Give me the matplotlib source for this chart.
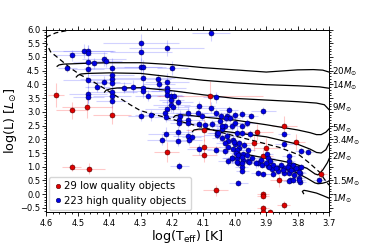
import numpy as np
import matplotlib
matplotlib.use("Agg")
import matplotlib.pyplot as plt
from matplotlib.lines import Line2D
from matplotlib.ticker import MultipleLocator
import matplotlib.transforms as mtransforms

# --- data: log Teff, log L and their errors ---
red_logt = [4.569, 4.519, 4.472, 4.391, 4.519, 4.465, 4.079, 4.097, 4.097, 4.097, 4.217, 4.061, 3.928,
            3.843, 3.940, 3.900, 3.805, 3.910, 3.727, 3.859, 3.911, 3.911, 3.845, 3.911, 3.911, 3.889]
red_logl = [3.61, 3.05, 3.16, 2.90, 1.00, 0.93, 3.59, 2.33, 1.71, 1.41, 1.54, 0.14, 2.27,
            2.49, 1.87, 1.68, 1.90, 1.38, 0.74, 0.50, 0.01, -0.05, -0.40, -0.50, -0.64, -0.66]
red_terr = [0.025, 0.05, 0.08, 0.06, 0.03, 0.05, 0.17, 0.06, 0.05, 0.04, 0.04, 0.04, 0.05,
            0.04, 0.04, 0.04, 0.03, 0.03, 0.02, 0.03, 0.02, 0.02, 0.02, 0.02, 0.02, 0.02]
red_lerr = [0.45, 0.30, 0.40, 0.35, 0.15, 0.20, 0.55, 0.40, 0.30, 0.25, 0.35, 0.20, 0.30,
            0.35, 0.30, 0.35, 0.30, 0.25, 0.20, 0.25, 0.10, 0.10, 0.15, 0.10, 0.10, 0.10]

blue_logt = [4.519, 4.481, 4.467, 4.467, 4.467, 4.467, 4.449, 4.417, 4.409, 4.534, 4.467, 4.467, 4.467,
             4.392, 4.392, 4.392, 4.392, 4.392, 4.392, 4.392, 4.417, 4.438, 4.353, 4.323,
             4.076, 4.299, 4.299, 4.217, 4.299, 4.292, 4.199, 4.292, 4.244, 4.242, 4.217, 4.217, 4.217,
             4.292, 4.292, 4.278, 4.217, 4.202, 4.194, 4.061, 4.182, 4.202, 4.202, 4.196, 4.217, 4.113,
             4.148, 4.116, 4.076, 4.061, 4.020, 4.026, 4.223, 4.268, 4.299, 4.175, 4.106, 4.219,
             4.000, 3.976, 3.947, 3.910,
             4.177, 4.177, 4.148, 4.148, 4.114, 4.095, 4.182, 4.218, 4.231, 4.180, 4.148, 4.146, 4.138,
             4.114, 4.177, 4.058, 4.058, 4.074, 4.042, 4.029, 4.060,
             4.015, 4.044, 4.031, 4.010, 3.994, 3.976, 3.951, 3.843, 3.843, 3.789, 3.768, 4.026, 4.021,
             4.005, 4.031, 3.999, 4.021, 4.005, 3.987, 4.031, 3.989, 3.973, 4.010, 3.994, 4.023, 3.991,
             3.973, 3.957, 3.978, 3.925, 3.898, 3.893, 3.888, 3.914, 3.893, 3.882, 3.866, 3.861, 3.845,
             3.829, 3.829, 3.829, 3.827, 3.813, 3.797, 3.792, 3.797, 3.824, 3.827, 3.845, 3.880, 3.909,
             3.927, 3.976, 3.989, 4.047, 4.042, 4.053, 4.042, 3.731, 3.828, 3.793, 3.999, 3.976, 3.960,
             4.003, 3.987, 3.971, 3.957, 3.992, 3.997, 3.989, 3.976, 3.960, 3.944, 4.008, 3.992, 3.976,
             3.955, 3.933, 3.917, 3.902, 3.891, 3.880, 3.870, 3.854, 3.848, 3.832, 3.822, 3.816, 3.806,
             3.795, 3.790, 3.811, 3.816, 3.795]
blue_logl = [5.06, 5.23, 5.23, 5.13, 4.80, 4.57, 4.77, 4.93, 4.84, 4.59, 4.16, 3.64, 3.53,
             4.61, 4.34, 4.18, 4.06, 3.71, 3.58, 3.40, 4.10, 3.92, 3.88, 3.92,
             5.89, 5.52, 5.19, 5.32, 4.65, 4.65, 4.60, 4.22, 4.18, 4.01, 4.10, 3.86, 3.76,
             3.86, 3.76, 3.58, 3.61, 3.59, 3.59, 3.54, 3.37, 3.43, 3.25, 3.16, 3.09, 3.21,
             2.97, 2.97, 3.15, 2.97, 3.07, 2.85, 2.97, 2.88, 2.85, 2.85, 2.85, 2.83,
             2.87, 2.92, 2.86, 3.04,
             2.70, 2.58, 2.72, 2.60, 2.55, 2.52, 2.27, 2.21, 1.99, 1.94, 2.12, 1.99, 2.07,
             1.63, 1.02, 2.24, 2.15, 2.55, 2.39, 2.76, 1.60,
             2.78, 2.85, 2.48, 2.48, 2.24, 2.24, 2.20, 2.20, 1.84, 1.57, 1.54, 2.12, 1.93,
             1.99, 1.87, 1.84, 1.71, 1.63, 1.67, 1.57, 1.45, 1.45, 1.33, 1.33, 1.20, 1.14,
             1.23, 1.20, 0.98, 1.14, 1.45, 1.33, 1.20, 1.08, 1.02, 0.90, 0.96, 0.86, 0.96,
             1.39, 1.20, 1.08, 0.90, 0.92, 0.96, 0.78, 0.60, 0.53, 0.78, 0.78, 0.72, 0.72,
             0.78, 0.84, 0.42, 2.66, 2.48, 2.24, 2.06, 0.51, 0.49, 0.46, 2.60, 2.48, 2.60,
             1.91, 1.85, 1.79, 1.60, 1.60, 1.51, 1.42, 1.36, 1.42, 1.30, 1.30, 1.18, 1.12,
             1.18, 1.12, 1.24, 1.12, 0.99, 1.06, 0.94, 1.06, 0.87, 0.99, 0.87, 1.06, 0.94,
             0.81, 0.99, 0.69, 0.51, 0.51]
blue_terr = [0.06, 0.10, 0.08, 0.06, 0.05, 0.05, 0.04, 0.07, 0.05, 0.03, 0.08, 0.06, 0.05,
             0.09, 0.07, 0.10, 0.06, 0.08, 0.06, 0.05, 0.05, 0.04, 0.06, 0.05,
             0.06, 0.12, 0.10, 0.12, 0.08, 0.06, 0.05, 0.10, 0.04, 0.05, 0.07, 0.06, 0.05,
             0.08, 0.06, 0.04, 0.05, 0.04, 0.03, 0.04, 0.05, 0.04, 0.06, 0.05, 0.07, 0.05,
             0.04, 0.03, 0.05, 0.04, 0.03, 0.03, 0.06, 0.05, 0.04, 0.04, 0.05, 0.04,
             0.03, 0.03, 0.02, 0.04,
             0.04, 0.03, 0.05, 0.04, 0.03, 0.04, 0.05, 0.06, 0.05, 0.04, 0.05, 0.04, 0.03,
             0.04, 0.03, 0.03, 0.04, 0.03, 0.04, 0.03, 0.03,
             0.03, 0.04, 0.03, 0.02, 0.03, 0.02, 0.03, 0.02, 0.03, 0.02, 0.02, 0.03, 0.03,
             0.02, 0.03, 0.02, 0.03, 0.02, 0.03, 0.03, 0.02, 0.02, 0.03, 0.02, 0.03, 0.02,
             0.02, 0.02, 0.02, 0.02, 0.02, 0.02, 0.02, 0.02, 0.02, 0.02, 0.02, 0.02, 0.02,
             0.02, 0.02, 0.02, 0.02, 0.02, 0.02, 0.02, 0.02, 0.02, 0.02, 0.02, 0.02, 0.02,
             0.02, 0.02, 0.03, 0.03, 0.03, 0.03, 0.03, 0.02, 0.02, 0.02, 0.02, 0.02, 0.03,
             0.02, 0.02, 0.02, 0.02, 0.02, 0.02, 0.02, 0.02, 0.02, 0.02, 0.03, 0.02, 0.02,
             0.02, 0.02, 0.02, 0.02, 0.02, 0.02, 0.02, 0.02, 0.02, 0.02, 0.02, 0.02, 0.02,
             0.02, 0.02, 0.02, 0.02, 0.02]
blue_lerr = [0.20, 0.25, 0.20, 0.30, 0.20, 0.25, 0.20, 0.25, 0.20, 0.15, 0.30, 0.30, 0.25,
             0.35, 0.30, 0.25, 0.30, 0.35, 0.30, 0.25, 0.20, 0.20, 0.20, 0.25,
             0.30, 0.30, 0.35, 0.30, 0.30, 0.25, 0.25, 0.30, 0.20, 0.25, 0.30, 0.25, 0.20,
             0.25, 0.25, 0.20, 0.30, 0.20, 0.20, 0.20, 0.25, 0.20, 0.25, 0.20, 0.30, 0.20,
             0.20, 0.15, 0.20, 0.15, 0.15, 0.20, 0.25, 0.20, 0.20, 0.20, 0.15, 0.20,
             0.15, 0.15, 0.10, 0.15,
             0.20, 0.15, 0.20, 0.15, 0.15, 0.15, 0.20, 0.25, 0.20, 0.20, 0.25, 0.20, 0.15,
             0.20, 0.15, 0.20, 0.15, 0.15, 0.20, 0.15, 0.15,
             0.15, 0.15, 0.15, 0.15, 0.20, 0.15, 0.15, 0.10, 0.15, 0.10, 0.10, 0.15, 0.20,
             0.15, 0.15, 0.15, 0.20, 0.15, 0.15, 0.15, 0.15, 0.10, 0.15, 0.15, 0.15, 0.10,
             0.15, 0.10, 0.10, 0.15, 0.15, 0.10, 0.15, 0.10, 0.10, 0.10, 0.15, 0.10, 0.10,
             0.15, 0.10, 0.10, 0.10, 0.10, 0.15, 0.10, 0.10, 0.10, 0.10, 0.10, 0.10, 0.10,
             0.10, 0.10, 0.10, 0.15, 0.15, 0.20, 0.15, 0.10, 0.10, 0.10, 0.15, 0.10, 0.15,
             0.15, 0.10, 0.15, 0.10, 0.15, 0.10, 0.15, 0.10, 0.10, 0.15, 0.15, 0.10, 0.10,
             0.10, 0.15, 0.10, 0.10, 0.10, 0.10, 0.10, 0.15, 0.10, 0.10, 0.10, 0.10, 0.10,
             0.10, 0.10, 0.10, 0.10, 0.10]

# evolutionary tracks (log Teff, log L) and the dashed birthline
track_masses = ["20", "14", "9", "5", "3.4", "2", "1.5", "1"]
track_label_logl = [4.47, 3.95, 3.15, 2.40, 1.93, 1.36, 0.47, -0.16]
track_20_t = [4.566, 4.56, 4.545, 4.52, 4.45, 4.40, 4.30, 4.20, 4.10, 4.00, 3.90, 3.85, 3.80, 3.75, 3.72, 3.70]
track_20_l = [4.66, 4.71, 4.74, 4.75, 4.78, 4.79, 4.79, 4.72, 4.61, 4.53, 4.45, 4.49, 4.53, 4.54, 4.52, 4.45]
track_14_t = [4.505, 4.50, 4.49, 4.47, 4.40, 4.30, 4.20, 4.10, 4.00, 3.90, 3.80, 3.73, 3.70]
track_14_l = [4.27, 4.33, 4.38, 4.40, 4.42, 4.40, 4.27, 4.15, 4.06, 3.99, 3.95, 3.91, 3.86]
track_9_t = [4.415, 4.41, 4.395, 4.375, 4.30, 4.20, 4.10, 4.00, 3.90, 3.80, 3.74, 3.715, 3.70]
track_9_l = [3.72, 3.79, 3.84, 3.87, 3.88, 3.77, 3.62, 3.49, 3.43, 3.37, 3.32, 3.26, 3.08]
track_5_t = [4.195, 4.19, 4.175, 4.15, 4.10, 4.00, 3.90, 3.80, 3.76, 3.74, 3.725, 3.71, 3.70]
track_5_l = [2.80, 2.86, 2.89, 2.88, 2.81, 2.70, 2.53, 2.34, 2.24, 2.17, 2.17, 2.26, 2.38]
track_34_t = [4.135, 4.13, 4.115, 4.09, 4.05, 4.00, 3.90, 3.80, 3.76, 3.74, 3.725, 3.71, 3.70]
track_34_l = [2.28, 2.34, 2.37, 2.37, 2.31, 2.24, 2.09, 1.82, 1.64, 1.52, 1.50, 1.62, 1.85]
track_2_t = [3.995, 3.99, 3.975, 3.95, 3.90, 3.85, 3.81, 3.77, 3.745, 3.735, 3.72, 3.705, 3.697]
track_2_l = [1.36, 1.42, 1.45, 1.42, 1.31, 1.21, 1.11, 0.94, 0.74, 0.70, 0.88, 1.15, 1.36]
track_15_t = [3.88, 3.875, 3.86, 3.81, 3.77, 3.745, 3.735, 3.72, 3.705, 3.697]
track_15_l = [0.93, 0.99, 1.01, 0.82, 0.58, 0.41, 0.38, 0.40, 0.45, 0.51]
track_1_t = [3.781, 3.785, 3.78, 3.77, 3.74, 3.72, 3.697]
track_1_l = [0.02, 0.10, 0.14, 0.12, 0.04, -0.05, -0.16]
birth_t = [4.46, 4.50, 4.54, 4.57, 4.598, 4.603, 4.587, 4.555, 4.523, 4.491, 4.46, 4.417, 4.374, 4.332,
           4.30, 4.20, 4.10, 4.00, 3.93, 3.86, 3.795, 3.762, 3.73, 3.715, 3.70]
birth_l = [6.06, 6.01, 5.95, 5.88, 5.74, 5.56, 5.19, 4.89, 4.59, 4.34, 4.16, 3.86, 3.55, 3.25,
           3.04, 2.73, 2.43, 2.12, 1.92, 1.71, 1.43, 1.13, 0.80, 0.55, 0.33]

tracks_t = [track_20_t, track_14_t, track_9_t, track_5_t, track_34_t, track_2_t, track_15_t, track_1_t]
tracks_l = [track_20_l, track_14_l, track_9_l, track_5_l, track_34_l, track_2_l, track_15_l, track_1_l]

# --- plot ---
fig = plt.figure(figsize=(3.66, 2.44), dpi=100)
ax = fig.add_axes([0.127, 0.130, 0.772, 0.749])

ax.errorbar(blue_logt, blue_logl, xerr=blue_terr, yerr=blue_lerr, fmt='none',
            ecolor=(0.3, 0.3, 1.0, 0.25), elinewidth=0.8, zorder=1)
ax.errorbar(red_logt, red_logl, xerr=red_terr, yerr=red_lerr, fmt='none',
            ecolor=(1.0, 0.3, 0.3, 0.3), elinewidth=0.8, zorder=1)

for tt, ll in zip(tracks_t, tracks_l):
    ax.plot(tt, ll, color='k', lw=0.9, zorder=2)
ax.plot(birth_t, birth_l, color='k', lw=0.9, ls=(0, (4, 2.5)), zorder=2)

ax.plot(red_logt, red_logl, 'o', ms=3.6, mfc='#e00000', mec='#500000', mew=0.4, zorder=3)
ax.plot(blue_logt, blue_logl, 'o', ms=3.6, mfc='#0000e6', mec='#000050', mew=0.4, zorder=3)

trans = mtransforms.blended_transform_factory(ax.transAxes, ax.transData)
for m, y in zip(track_masses, track_label_logl):
    ax.text(1.012, y, r'$%s M_{\odot}$' % m, transform=trans, fontsize=6.3,
            va='center', ha='left', clip_on=False)

ax.set_xlim(4.6, 3.7)
ax.set_ylim(-0.66, 6.0)
ax.xaxis.set_major_locator(MultipleLocator(0.1))
ax.xaxis.set_minor_locator(MultipleLocator(0.02))
ax.yaxis.set_major_locator(MultipleLocator(0.5))
ax.yaxis.set_minor_locator(MultipleLocator(0.1))
ax.tick_params(which='both', top=True, right=True, labelsize=6, width=0.6, pad=1.5)
ax.tick_params(which='major', length=3)
ax.tick_params(which='minor', length=1.6)
for s in ax.spines.values():
    s.set_linewidth(0.7)

ax.set_xlabel(r'log(T$_{\rm eff}$) [K]', fontsize=9.2, labelpad=0)
ax.set_ylabel(r'log(L) [$L_{\odot}$]', fontsize=9.2, labelpad=0.5)

handles = [Line2D([], [], ls='none', marker='o', ms=3.2, mfc='#e00000', mec='#500000', mew=0.4),
           Line2D([], [], ls='none', marker='o', ms=3.2, mfc='#0000e6', mec='#000050', mew=0.4)]
ax.legend(handles, ['29 low quality objects', '223 high quality objects'], loc='lower left',
          fontsize=7.3, borderaxespad=0.25, handletextpad=0.2, handlelength=0.9,
          borderpad=0.4, labelspacing=0.45)

fig.savefig('out.png', dpi=100)
